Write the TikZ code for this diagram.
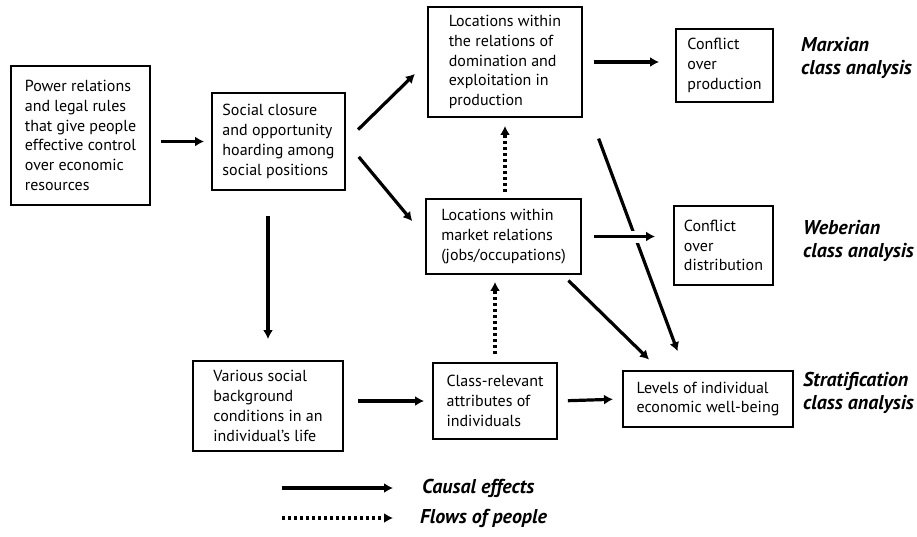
\documentclass[tikz,border=0pt]{standalone}
\usepackage{fontspec}
\setmainfont{PT Sans}
\usetikzlibrary{arrows.meta,positioning,calc}
\tikzset{
  % Box: plain frame, text set flush left
  cbox/.style={draw, rectangle, line width=1.9pt, align=left, inner sep=0pt,
               font=\fontsize{16}{19.8}\selectfont},
  % Arrows
  causalarr/.style={-{Latex[length=9pt,width=10pt]}, line width=3.2pt},
  flowarr/.style={causalarr, dash pattern=on 3pt off 3pt},
  crossgap/.style={preaction={draw=white, line width=12pt, arrows=-}},
  % Analysis label at the right margin
  tag/.style={font=\fontsize{20}{22.5}\selectfont\bfseries\itshape, align=left, inner sep=0pt}
}
\begin{document}
\begin{tikzpicture}[x=1pt, y=-1pt]
\useasboundingbox (0,0) rectangle (917,536);

% Boxes
\node[cbox, minimum width=139pt, minimum height=139pt] (power) at (80.5,135.5)
  {Power relations\\and legal rules\\that give people\\effective control\\over economic\\resources};
\node[cbox, minimum width=133pt, minimum height=97pt] (closure) at (278.5,141.5)
  {Social closure\\and opportunity\\hoarding among\\social positions};
\node[cbox, minimum width=154pt, minimum height=110pt] (prod) at (505,62)
  {Locations within\\the relations of\\domination and\\exploitation in\\production};
\node[cbox, minimum width=155pt, minimum height=75pt] (market) at (503.5,236.5)
  {Locations within\\market relations\\(jobs/occupations)};
\node[cbox, minimum width=97pt, minimum height=73pt] (cprod) at (724.5,65.5)
  {Conflict\\over\\production};
\node[cbox, minimum width=99pt, minimum height=79pt] (cdist) at (723.5,245.5)
  {Conflict\\over\\distribution};
\node[cbox, minimum width=170pt, minimum height=56pt] (levels) at (708,399)
  {Levels of individual\\economic well-being};
\node[cbox, minimum width=150pt, minimum height=90pt] (various) at (268,406)
  {Various social\\background\\conditions in an\\individual’s life};
\node[cbox, minimum width=124pt, minimum height=76pt] (attrib) at (495,401)
  {Class-relevant\\attributes of\\individuals};

% Labels at the right
\node[tag, anchor=west] (marx) at (801,58) {Marxian\\class analysis};
\node[tag, anchor=west] (weber) at (803,241) {Weberian\\class analysis};
\node[tag, anchor=west] (strat) at (803,393) {Stratification\\class analysis};

% Causal effects
\draw[causalarr, shorten <=10pt, shorten >=7pt] (power.east |- closure.west) -- (closure.west);
\draw[causalarr, shorten <=17pt, shorten >=17pt] (closure.east) -- (prod.west);
\draw[causalarr, shorten <=20pt, shorten >=20pt] (closure.east) -- (market.west);
\draw[causalarr, shorten <=25pt, shorten >=21pt] (various.north |- closure.south) -- (various.north);
\draw[causalarr, shorten <=11pt, shorten >=16pt] (prod.east) -- (prod.east -| cprod.west);
\draw[causalarr, shorten <=22pt, shorten >=20pt] ($(prod.south east)+(8,0)$) -- (levels.129);
\draw[causalarr, crossgap, shorten <=12pt, shorten >=18pt] (market.east) -- (market.east -| cdist.west);
\draw[causalarr, shorten <=8pt, shorten >=15pt] (market.-33) -- (levels.149);
\draw[causalarr, shorten <=14pt, shorten >=8pt] (attrib.west -| various.east) -- (attrib.west);
\draw[causalarr, shorten <=10pt, shorten >=9pt] (attrib.east) -- (levels.west);

% Flows of people
\draw[flowarr, shorten <=8pt, shorten >=7pt] (attrib.north) -- (attrib.north |- market.south);
\draw[flowarr, shorten <=6pt, shorten >=8pt] (market.north -| prod.south) -- (prod.south);

% Legend
\coordinate (c1) at (282,488);
\coordinate (c2) at (393,488);
\coordinate (d1) at (282,518);
\coordinate (d2) at (393,518);
\draw[causalarr] (c1) -- (c2);
\draw[flowarr] (d1) -- (d2);
\node[tag, right=29pt of c2] (causal) {Causal effects};
\node[tag, right=27pt of d2] (flows) {Flows of people};

\end{tikzpicture}
\end{document}
